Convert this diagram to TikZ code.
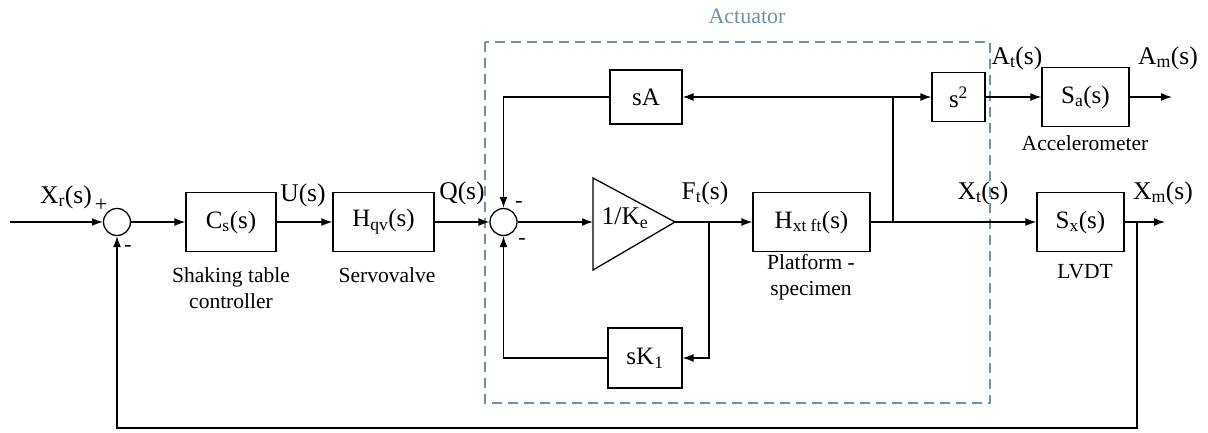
\documentclass[tikz,border=0pt]{standalone}
\usepackage{fontspec}
\setmainfont{Liberation Serif}
\usepackage{xcolor}
\usetikzlibrary{arrows.meta,positioning,calc}
\definecolor{actblue}{RGB}{110,145,170}

\begin{document}
\begin{tikzpicture}[x=1pt, y=-1pt,
    block/.style={draw, line width=1.3pt, inner sep=0pt, font=\fontsize{25}{28}\selectfont},
    sumnode/.style={circle, draw, line width=1.3pt, minimum size=27pt, inner sep=0pt},
    sig/.style={font=\fontsize{25.5}{28}\selectfont, inner sep=0pt},
    blockcap/.style={font=\fontsize{21.5}{26}\selectfont, inner sep=0pt, align=center},
    sgn/.style={font=\fontsize{22}{24}\selectfont, inner sep=0pt},
    wire/.style={line width=1.3pt},
    conn/.style={wire, -{Latex[length=11pt,width=8pt]}}]
    \useasboundingbox (0,0) rectangle (1208,432);

    % actuator frame
    \draw[actblue, line width=2.5pt, dash pattern=on 10pt off 6pt] (485,42) rectangle (990,403);
    \node[font=\fontsize{22}{24}\selectfont, text=actblue] (act) at (747,16) {Actuator};

    % blocks
    \node[sumnode] (sum1) at (117,222) {};
    \node[block, minimum width=90pt, minimum height=59pt] (cs) at (231,222) {C\textsubscript{s}(s)};
    \node[block, minimum width=101pt, minimum height=59pt] (hqv) at (383.5,222) {H\textsubscript{qv}(s)};
    \node[sumnode] (sum2) at (503.5,222) {};
    \draw[wire] (593,178) -- (675,222) -- (593,270) -- cycle;
    \node[sig] (gain) at (625,218) {1/K\textsubscript{e}};
    \node[block, minimum width=117pt, minimum height=59pt] (hxt) at (811.5,222) {H\textsubscript{xt ft}(s)};
    \node[block, minimum width=87pt, minimum height=59pt] (sx) at (1080.5,222) {S\textsubscript{x}(s)};
    \node[block, minimum width=72pt, minimum height=54pt] (sA) at (646,97) {sA};
    \node[block, minimum width=53pt, minimum height=49pt] (s2) at (958.5,97) {s\textsuperscript{2}};
    \node[block, minimum width=87pt, minimum height=59pt] (sa) at (1085.5,97) {S\textsubscript{a}(s)};
    \node[block, minimum width=74pt, minimum height=60pt] (sK) at (645,358) {sK\textsubscript{1}};

    % points on the wires
    \coordinate (in) at (10,222);
    \coordinate (gainin) at (593,222);
    \coordinate (gainout) at (675,222);
    \coordinate (fb) at (709,222);
    \coordinate (br) at (893,222);
    \coordinate (tj) at (893,97);
    \coordinate (xb) at (1137,222);
    \coordinate (xout) at (1165,222);
    \coordinate (aout) at (1172,97);
    \coordinate (bot) at (1137,428);

    % connectors
    \draw[conn] (in) -- (sum1);
    \draw[conn] (sum1) -- (cs);
    \draw[conn] (cs) -- (hqv);
    \draw[conn] (hqv) -- (sum2);
    \draw[conn] (sum2) -- (gainin);
    \draw[conn] (gainout) -- (hxt);
    \draw[conn] (fb) |- (sK.east);
    \draw[conn] (sK.west) -| (sum2.south);
    \draw[conn] (hxt) -- (sx);
    \draw[wire] (br) -- (tj);
    \draw[conn] (tj) -- (sA);
    \draw[conn] (tj) -- (s2);
    \draw[conn] (s2) -- (sa);
    \draw[conn] (sA.west) -| (sum2.north);
    \draw[conn] (sa) -- (aout);
    \draw[conn] (sx) -- (xout);
    \draw[conn] (xb) -- (bot) -| (sum1.south);

    % signals and signs
    \node[sig] (lxr) at (66,197) {X\textsubscript{r}(s)};
    \node[sgn] (plus1) at (101,205) {+};
    \node[sgn] (minus1) at (128,248) {-};
    \node[sig] (lu) at (303,195) {U(s)};
    \node[sig] (lq) at (462,193) {Q(s)};
    \node[sgn] (minus2) at (519,204) {-};
    \node[sgn] (minus3) at (522,241) {-};
    \node[sig] (lft) at (705,193) {F\textsubscript{t}(s)};
    \node[sig] (lxt) at (983,193) {X\textsubscript{t}(s)};
    \node[sig] (lxm) at (1163,193) {X\textsubscript{m}(s)};
    \node[sig] (lat) at (1017,58) {A\textsubscript{t}(s)};
    \node[sig] (lam) at (1168,58) {A\textsubscript{m}(s)};

    % block captions
    \node[blockcap] (ccs) at (231,288) {Shaking table\\controller};
    \node[blockcap] (chqv) at (387,275) {Servovalve};
    \node[blockcap] (chxt) at (811,277) {Platform -\\specimen};
    \node[blockcap] (csx) at (1085,272) {LVDT};
    \node[blockcap] (csa) at (1085,143) {Accelerometer};
\end{tikzpicture}
\end{document}
